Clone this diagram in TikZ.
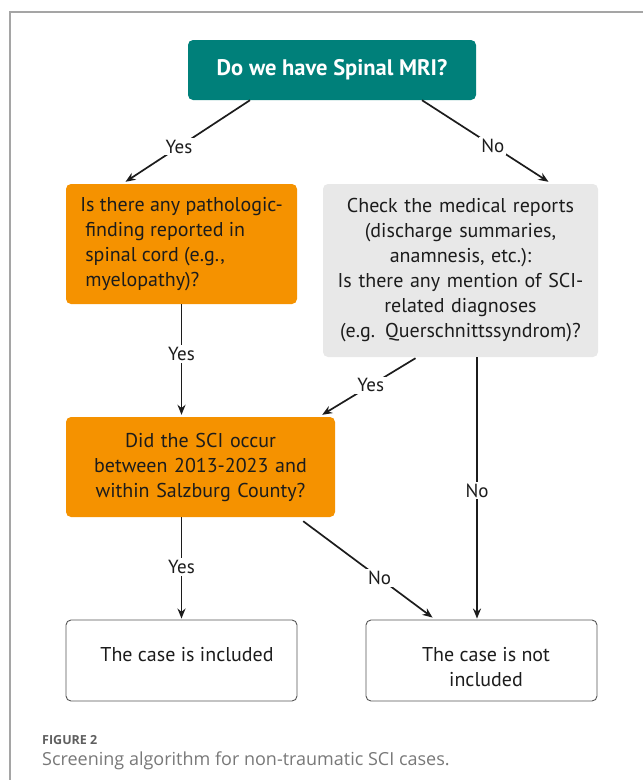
\documentclass[tikz,border=0pt]{standalone}
\usepackage{fontspec}
\setmainfont{PT Sans}
\newfontfamily\capfont{Open Sans}
\usetikzlibrary{arrows.meta}
\definecolor{tealbox}{RGB}{0,128,122}
\definecolor{orangebox}{RGB}{245,146,0}
\definecolor{greybox}{RGB}{232,232,232}
\definecolor{inktext}{RGB}{28,28,28}
\definecolor{framegrey}{RGB}{165,165,165}
\definecolor{capgrey}{RGB}{120,120,120}
\definecolor{figgrey}{RGB}{95,95,95}
\tikzset{
>={Stealth[length=10pt,width=8pt]},
box/.style={rounded corners=5pt,inner sep=0pt,text=inktext,font=\fontsize{20}{25}\selectfont},
mri node/.style={box,fill=tealbox,text=white,font=\bfseries\fontsize{22.5}{26}\selectfont,minimum width=288pt,minimum height=60pt},
orange node/.style={box,fill=orangebox},
grey node/.style={box,fill=greybox},
end node/.style={box,draw=inktext!75,line width=0.9pt,minimum width=231pt,minimum height=81pt},
end text/.style={inner sep=0pt,text=inktext,font=\fontsize{20}{25}\selectfont,align=center},
freccia/.style={->,line width=1.7pt,inktext},
etichetta/.style={fill=white,inner sep=2pt,text=inktext,font=\fontsize{19}{22}\selectfont}}

\begin{document}
\begin{tikzpicture}[x=1pt,y=-1pt]
\useasboundingbox (0,0) rectangle (643,780);

% frame of the figure
\draw[framegrey,line width=1.5pt] (643,12) -- (10,12) -- (10,780);

\node[mri node] (mri) at (332,70) {Do we have Spinal MRI?};
\node[orange node,minimum width=231pt,minimum height=120pt,align=left] (patho) at (181.5,244)
  {Is there any pathologic-\\\hspace*{5pt}finding reported in\\\hspace*{5pt}spinal cord (e.g.,\\\hspace*{5pt}myelopathy)?};
\node[grey node,text width=275pt,minimum height=173pt,align=center] (reports) at (460.5,270.5)
  {Check the medical reports\\(discharge summaries,\\anamnesis, etc.):\\Is there any mention of SCI-\\related diagnoses\\(e.g. Querschnittssyndrom)?};
\node[orange node,text width=269pt,minimum height=100pt,align=center] (timeplace) at (200.5,467)
  {Did the SCI occur\\between 2013-2023 and\\within Salzburg County?};
\node[end node] (incl) at (181.5,660.5) {};
\node[end node] (excl) at (481.5,660.5) {};
\node[end text] (incltext) at (187,655) {The case is included};
\node[end text] (excltext) at (486,667.5) {The case is not\\included};

\path[freccia] ([xshift=-82pt]mri.south) edge node[etichetta,pos=.57] {Yes} ([xshift=-56pt,yshift=2pt]patho.north);
\path[freccia] ([xshift=90pt]mri.south) edge node[etichetta,pos=.56] {No} ([xshift=88pt,yshift=2pt]reports.north);
\path[freccia] (patho.south) edge node[etichetta,pos=.45] {Yes} ([xshift=-19pt,yshift=2pt]timeplace.north);
\path[freccia] ([xshift=-45pt,yshift=-1pt]reports.south) edge node[etichetta,pos=.48] {Yes} ([xshift=-13pt,yshift=2pt]timeplace.north east);
\path[freccia] ([xshift=16.5pt]reports.south) edge node[etichetta,pos=.51] {No} ([xshift=-4.5pt,yshift=1pt]excl.north);
\path[freccia] ([xshift=-19pt]timeplace.south) edge node[etichetta,pos=.49] {Yes} ([yshift=1pt]incl.north);
\path[freccia] ([xshift=-32pt,yshift=-4pt]timeplace.south east) edge node[etichetta,pos=.59] {No} ([xshift=67pt,yshift=2pt]excl.north west);

\node[anchor=west,inner sep=0pt,text=figgrey,font=\capfont\bfseries\fontsize{12.5}{15}\selectfont] (figlabel) at (42,740) {FIGURE 2};
\node[anchor=west,inner sep=0pt,text=capgrey,font=\capfont\fontsize{18}{22}\selectfont] (figcaption) at (42,761) {Screening algorithm for non-traumatic SCI cases.};
\end{tikzpicture}
\end{document}
